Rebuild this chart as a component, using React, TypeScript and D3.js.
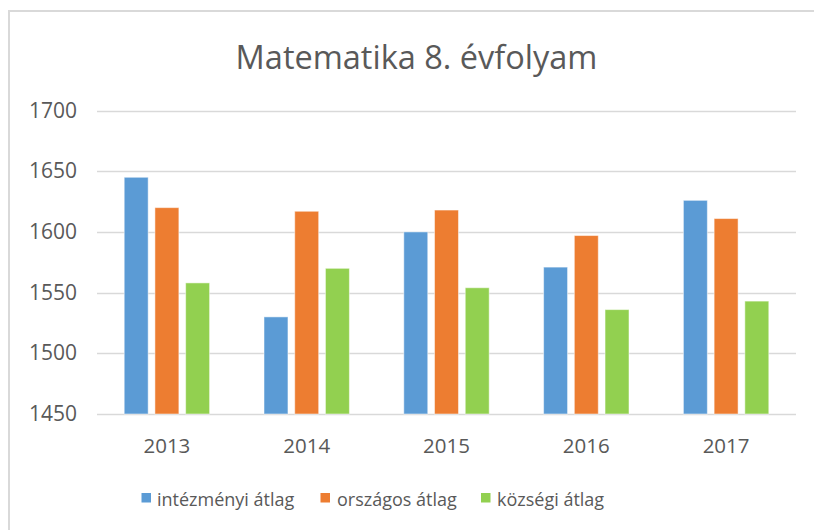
import React from "react";
import * as d3 from "d3";

const categories = ["2013", "2014", "2015", "2016", "2017"];
const seriesNames = ["intézményi átlag", "országos átlag", "községi átlag"];
const intezmenyi = [1645, 1530, 1600, 1571, 1626];
const orszagos = [1620, 1617, 1618, 1597, 1611];
const kozsegi = [1558, 1570, 1554, 1536, 1543];
const yTicks = [1450, 1500, 1550, 1600, 1650, 1700];
const title = "Matematika 8. évfolyam";

const colors = ["#5B9BD5", "#ED7D31", "#92D050"];
const seriesValues = [intezmenyi, orszagos, kozsegi];

const W = 814;
const H = 530;
const FONT = "'Open Sans', 'DejaVu Sans', sans-serif";
const TEXT = "#595959";

export default function App() {
  const left = 97;
  const right = 796;
  const top = 110.5;
  const bottom = 414;

  const x0 = d3.scaleBand<string>().domain(categories).range([left, right]).paddingInner(0).paddingOuter(0);
  const step = x0.bandwidth();
  const groupPad = 27.2;
  const x1 = d3
    .scaleBand<string>()
    .domain(seriesNames)
    .range([groupPad, step - groupPad])
    .paddingInner(0.22)
    .paddingOuter(0);
  const y = d3.scaleLinear().domain([1450, 1700]).range([bottom, top]);

  const legendItems = [
    { sq: 141.5, tx: 157 },
    { sq: 320.5, tx: 337 },
    { sq: 481, tx: 497 },
  ];

  return (
    <svg
      width={W}
      height={H}
      style={{ position: "absolute", left: 0, top: 0, background: "#fff" }}
      fontFamily={FONT}
    >
      <rect x={0} y={0} width={W} height={H} fill="#fff" />
      <rect x={9} y={11} width={W + 10} height={H + 10} fill="none" stroke="#d9d9d9" strokeWidth={2} />
      <text x={416.5} y={69} textAnchor="middle" fontSize={32.5} fill={TEXT}>
        {title}
      </text>
      {yTicks.map((t) => (
        <g key={t}>
          <line x1={left} x2={right} y1={Math.round(y(t)) + 0.5} y2={Math.round(y(t)) + 0.5} stroke="#d9d9d9" strokeWidth={1.3} />
          <text x={77} y={y(t) + 7} textAnchor="end" fontSize={21} fill={TEXT}>
            {t}
          </text>
        </g>
      ))}
      {categories.map((c, i) => (
        <g key={c} transform={`translate(${x0(c)},0)`}>
          {seriesNames.map((s, j) => {
            const v = seriesValues[j][i];
            return (
              <rect
                key={s}
                x={x1(s)}
                y={y(v)}
                width={x1.bandwidth()}
                height={y(1450) - y(v)}
                fill={colors[j]}
                stroke="#ffffff"
                strokeOpacity={0.5}
                strokeWidth={1}
              />
            );
          })}
          <text x={step / 2} y={453} textAnchor="middle" fontSize={20.5} fill={TEXT}>
            {c}
          </text>
        </g>
      ))}
      {seriesNames.map((s, j) => (
        <g key={s}>
          <rect x={legendItems[j].sq} y={493} width={9.5} height={9.5} fill={colors[j]} />
          <text x={legendItems[j].tx} y={506} fontSize={18} fill={TEXT}>
            {s}
          </text>
        </g>
      ))}
    </svg>
  );
}
